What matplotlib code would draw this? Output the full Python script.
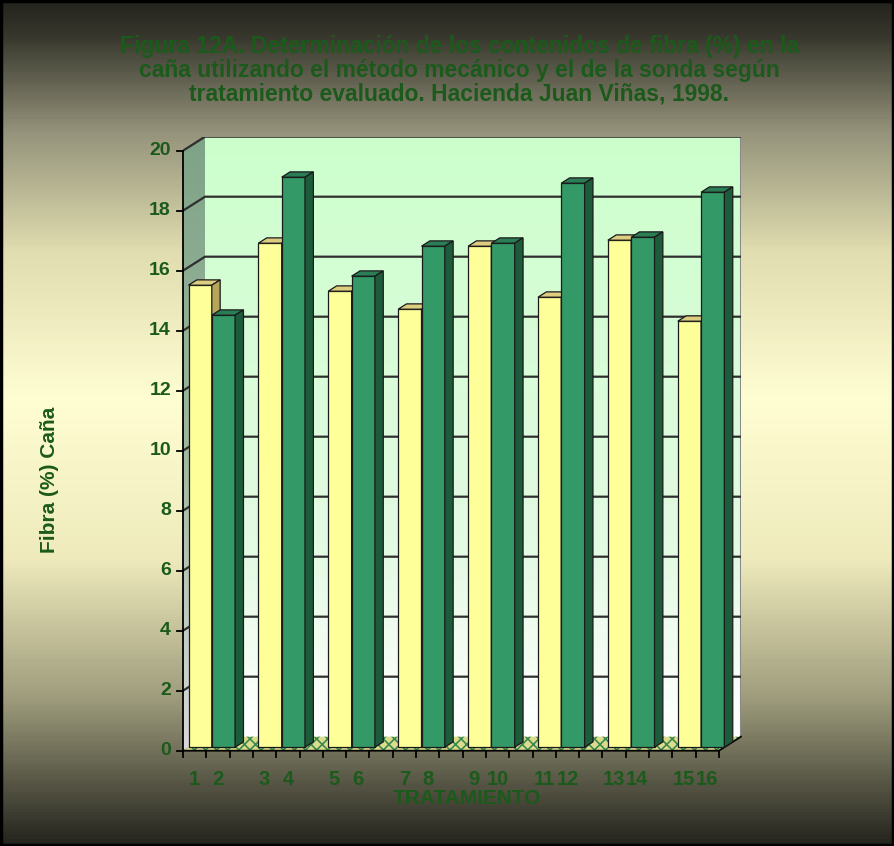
import matplotlib.pyplot as plt
import numpy as np
from matplotlib.colors import LinearSegmentedColormap
from matplotlib.patches import Polygon, Rectangle

plt.rcParams['font.family'] = ['Liberation Sans', 'DejaVu Sans']

# fibre content (%) per treatment pair: mechanical method vs. probe
tratamientos = ['1', '2', '3', '4', '5', '6', '7', '8',
                '9', '10', '11', '12', '13', '14', '15', '16']
metodo_mecanico = [15.4, 16.8, 15.2, 14.6, 16.7, 15.0, 16.9, 14.2]
metodo_sonda = [14.4, 19.0, 15.7, 16.7, 16.8, 18.8, 17.0, 18.5]
y_ticks = list(range(0, 21, 2))

W, H = 894, 846
TXT = '#1b5a1b'

fig = plt.figure(figsize=(W / 100, H / 100), dpi=100)

# background: dark at top and bottom, cream in the middle
bg = fig.add_axes([0, 0, 1, 1], zorder=0)
fondo = LinearSegmentedColormap.from_list('fondo', [
    (0.0, '#24241e'), (0.04, '#36362c'), (0.154, '#94927a'),
    (0.296, '#e0ddb0'), (0.473, '#fffed2'), (0.662, '#eeeabc'),
    (0.827, '#9e9c7c'), (1.0, '#24241e')])
bg.imshow(np.linspace(0, 1, 600).reshape(-1, 1), cmap=fondo, aspect='auto',
          extent=[0, 1, 0, 1], origin='upper')
bg.axis('off')
fig.patches.append(Rectangle((0.001, 0.001), 0.998, 0.998, transform=fig.transFigure,
                             fill=False, edgecolor='black', linewidth=2.5))

# oblique 3D layout in data units: x in category slots, y in % fibre
SX, SY = 23.3, 30.0          # pixels per slot / per unit
X0, Y0 = 183, 750.7          # front-left corner of the floor
DX, DY = 22 / SX, 14 / SY    # depth offset of the back wall
NSLOT = 23
YMAX = 20

ax = fig.add_axes([X0 / W, (H - Y0) / H, (NSLOT + DX) * SX / W, (YMAX + DY) * SY / H],
                  zorder=1)
ax.set_xlim(0, NSLOT + DX)
ax.set_ylim(0, YMAX + DY)
ax.axis('off')

# back wall
pared = LinearSegmentedColormap.from_list('pared', [(0, '#ffffff'), (0.3, '#e4fae4'), (1, '#ccffcc')])
ax.imshow(np.linspace(0, 1, 300).reshape(-1, 1), cmap=pared, aspect='auto', origin='lower',
          extent=[DX, NSLOT + DX, DY, YMAX + DY], zorder=1)
ax.plot([NSLOT + DX, NSLOT + DX], [DY, YMAX + DY], color='#8a8a8a', lw=1.5, zorder=2)

# side wall
lado = LinearSegmentedColormap.from_list('lado', ['#d8d8d8', '#9fb8a2', '#7ea386'])
im = ax.imshow(np.linspace(0, 1, 300).reshape(-1, 1), cmap=lado, aspect='auto', origin='lower',
               extent=[0, DX, 0, YMAX + DY], zorder=1)
muro = Polygon([(0, 0), (DX, DY), (DX, YMAX + DY), (0, YMAX)], closed=True,
               facecolor='none', edgecolor='none', transform=ax.transData)
ax.add_patch(muro)
im.set_clip_path(muro)

# gridlines
for v in y_ticks[1:]:
    ax.plot([0, DX, NSLOT + DX], [v, v + DY, v + DY], color='#2f2f2f', lw=1.6, zorder=3)

# floor
plt.rcParams['hatch.linewidth'] = 1.2
piso = [(0, 0), (NSLOT, 0), (NSLOT + DX, DY), (DX, DY)]
ax.add_patch(Polygon(piso, closed=True, facecolor='#dcdc8c', edgecolor='#3a8a50',
                     hatch='xxx', linewidth=0, zorder=4))
ax.plot([0, NSLOT, NSLOT + DX], [0, 0, DY], color='black', lw=1.3, zorder=5,
        clip_on=False)

# bars
F0, F1 = 0.25, 0.63
d, e = (F1 - F0) * DX, (F1 - F0) * DY
ox, oy = F0 * DX, F0 * DY
estilos = [('#ffff99', '#dccd80', '#b5a65c'), ('#339966', '#2a7d55', '#1d5c3b')]
z = 10
for k in range(len(metodo_mecanico)):
    for j, valor in enumerate([metodo_mecanico[k], metodo_sonda[k]]):
        frente, arriba, costado = estilos[j]
        x0 = 3 * k + j + ox
        x1 = x0 + 1
        b = oy
        t = valor + oy
        ax.add_patch(Polygon([(x0, b), (x1, b), (x1, t), (x0, t)], closed=True,
                             facecolor=frente, edgecolor='#1a1a1a', lw=0.9, zorder=z))
        ax.add_patch(Polygon([(x0, t), (x1, t), (x1 + d, t + e), (x0 + d, t + e)], closed=True,
                             facecolor=arriba, edgecolor='#1a1a1a', lw=0.9, zorder=z))
        ax.add_patch(Polygon([(x1, b), (x1, t), (x1 + d, t + e), (x1 + d, b + e)], closed=True,
                             facecolor=costado, edgecolor='#1a1a1a', lw=0.9, zorder=z))
        z += 1

# value axis
ax.plot([0, 0], [0, YMAX], color='black', lw=1.3, zorder=40, clip_on=False)
for v in y_ticks:
    ax.plot([0, -6 / SX], [v, v], color='black', lw=1.3, zorder=40, clip_on=False)
    ax.text(-12 / SX, v, str(v), ha='right', va='center', fontsize=14,
            fontweight='bold', color=TXT)

# category axis
for i in range(NSLOT + 1):
    ax.plot([i, i], [0, -6 / SY], color='black', lw=1.3, zorder=40, clip_on=False)
for n, lab in enumerate(tratamientos):
    slot = 3 * (n // 2) + n % 2
    ax.text(slot + 0.5, -29 / SY, lab, ha='center', va='center', fontsize=14.5,
            fontweight='bold', color=TXT)

fig.text(467 / W, 1 - 798 / H, 'TRATAMIENTO', ha='center', va='center',
         fontsize=15, fontweight='bold', color=TXT)
fig.text(50 / W, 1 - 480 / H, 'Fibra (%) Caña', rotation=90, ha='center', va='center',
         fontsize=15, fontweight='bold', color=TXT)
fig.text(459 / W, 1 - 70 / H,
         'Figura 12A. Determinación de los contenidos de fibra (%) en la\n'
         'caña utilizando el método mecánico y el de la sonda según\n'
         'tratamiento evaluado. Hacienda Juan Viñas, 1998.',
         ha='center', va='center', fontsize=16.5, fontweight='bold', color=TXT,
         linespacing=1.05)

fig.savefig('out.png', dpi=100)
